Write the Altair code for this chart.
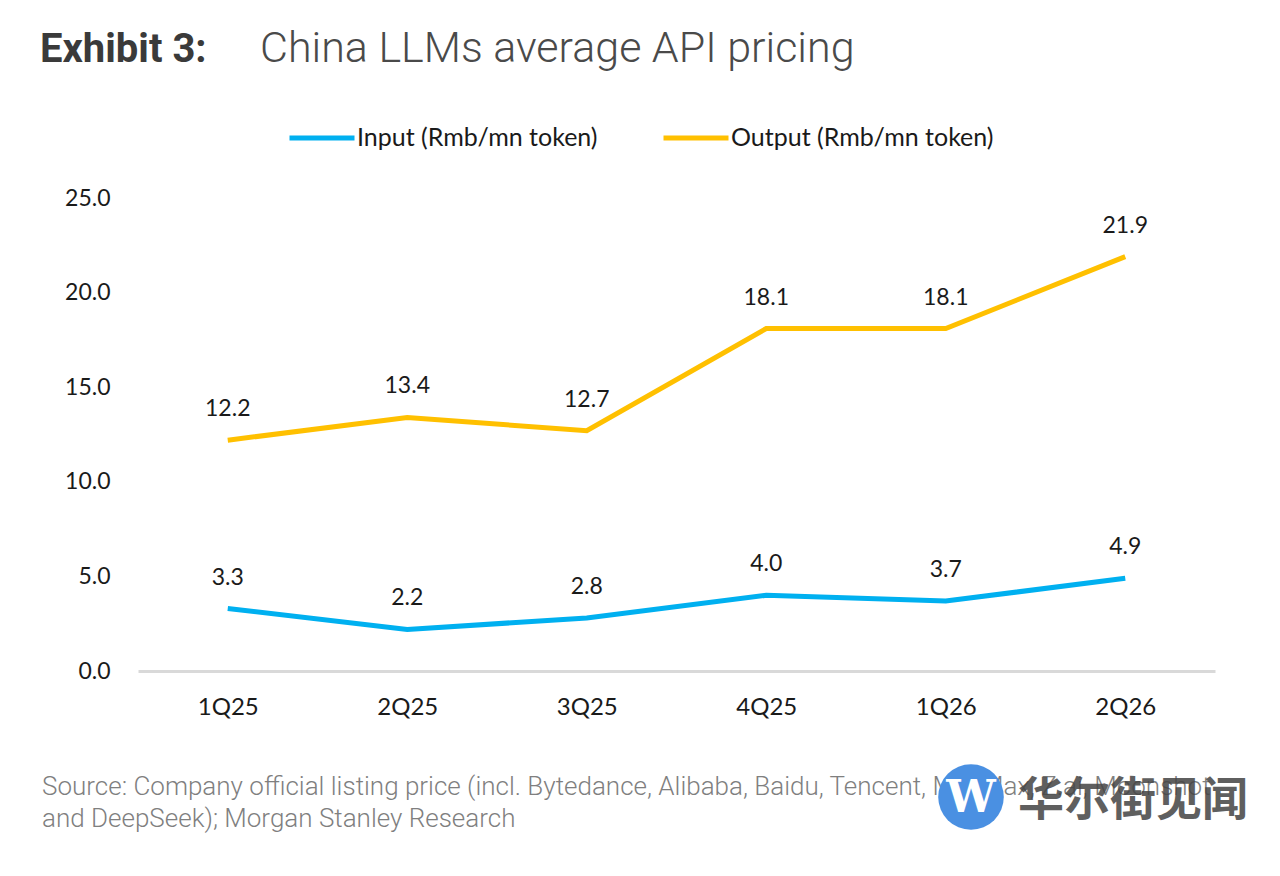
import altair as alt
import pandas as pd

quarters = ["1Q25", "2Q25", "3Q25", "4Q25", "1Q26", "2Q26"]
input_price = [3.3, 2.2, 2.8, 4.0, 3.7, 4.9]
output_price = [12.2, 13.4, 12.7, 18.1, 18.1, 21.9]
series_names = ["Input (Rmb/mn token)", "Output (Rmb/mn token)"]
series_colors = ["#00B0F0", "#FFC000"]

rows = []
for q, i, o in zip(quarters, input_price, output_price):
    rows.append({"quarter": q, "series": series_names[0], "value": i})
    rows.append({"quarter": q, "series": series_names[1], "value": o})
data = pd.DataFrame(rows)

FONT = "Lato"
INK = "#1a1a1a"

base = alt.Chart(data).encode(
    x=alt.X("quarter:N", sort=quarters, title=None,
            scale=alt.Scale(paddingInner=0, paddingOuter=0.5),
            axis=alt.Axis(labelAngle=0, ticks=False, domainColor="#d9d9d9",
                          domainWidth=3, labelPadding=24, labelFontSize=24,
                          labelColor=INK, labelFont=FONT, grid=False)),
    y=alt.Y("value:Q", title=None,
            scale=alt.Scale(domain=[0, 25], nice=False),
            axis=alt.Axis(values=[0, 5, 10, 15, 20, 25], format=".1f",
                          ticks=False, domain=False, grid=False,
                          labelPadding=28, labelFontSize=23,
                          labelColor=INK, labelFont=FONT)),
)

lines = base.mark_line(strokeWidth=5).encode(
    color=alt.Color("series:N", sort=series_names,
                    scale=alt.Scale(domain=series_names, range=series_colors),
                    legend=alt.Legend(title=None, orient="none", direction="horizontal",
                                      legendX=149, legendY=-95, symbolType="stroke",
                                      symbolSize=4225, symbolStrokeWidth=5,
                                      labelFontSize=25, labelFont=FONT,
                                      labelColor=INK, columnPadding=55,
                                      labelOffset=0, labelLimit=0))
)

labels = base.mark_text(dy=-31, fontSize=23, font=FONT, color=INK).encode(
    text=alt.Text("value:Q", format=".1f")
)

deco = pd.DataFrame({"k": [0]})

title_bold = alt.Chart(deco).mark_text(
    text="Exhibit 3:", align="left", baseline="alphabetic", fontSize=40,
    fontWeight="bold", font="Roboto", color="#3a3a3a"
).encode(x=alt.value(-98), y=alt.value(-136))

title_light = alt.Chart(deco).mark_text(
    text="China LLMs average API pricing", align="left", baseline="alphabetic",
    fontSize=43, fontWeight=300, font="Roboto", color="#4a4a4a"
).encode(x=alt.value(122), y=alt.value(-136))

source1 = alt.Chart(deco).mark_text(
    text="Source: Company official listing price (incl. Bytedance, Alibaba, Baidu, Tencent, MiniMax, Z.ai, Moonshot",
    align="left", baseline="alphabetic", fontSize=26, fontWeight=300,
    font="Roboto", color="#7f7f7f"
).encode(x=alt.value(-96), y=alt.value(597))

source2 = alt.Chart(deco).mark_text(
    text="and DeepSeek); Morgan Stanley Research",
    align="left", baseline="alphabetic", fontSize=26, fontWeight=300,
    font="Roboto", color="#7f7f7f"
).encode(x=alt.value(-96), y=alt.value(629))

logo = alt.Chart(deco).mark_point(
    filled=True, shape="circle", size=4300, color="#4A90E2", opacity=1
).encode(x=alt.value(833), y=alt.value(599))

logo_w = alt.Chart(deco).mark_text(
    text="W", fontSize=44, fontWeight="bold", font="DejaVu Serif",
    color="white", baseline="middle"
).encode(x=alt.value(833), y=alt.value(601))

watermark = alt.Chart(deco).mark_text(
    text="华尔街见闻", align="left", baseline="middle", fontSize=46,
    fontWeight="bold", font="Noto Sans CJK SC", color="#444444", opacity=0.85
).encode(x=alt.value(880), y=alt.value(603))

chart = alt.layer(
    lines, labels, title_bold, title_light, source1, source2, logo, logo_w, watermark
).properties(
    width=1077, height=473,
    background="white",
    autosize=alt.AutoSizeParams(type="none"),
    padding={"left": 130, "top": 190, "right": 57, "bottom": 190},
).configure_view(strokeWidth=0)

chart.save("out.html", embed_options={"renderer": "svg", "actions": False})
